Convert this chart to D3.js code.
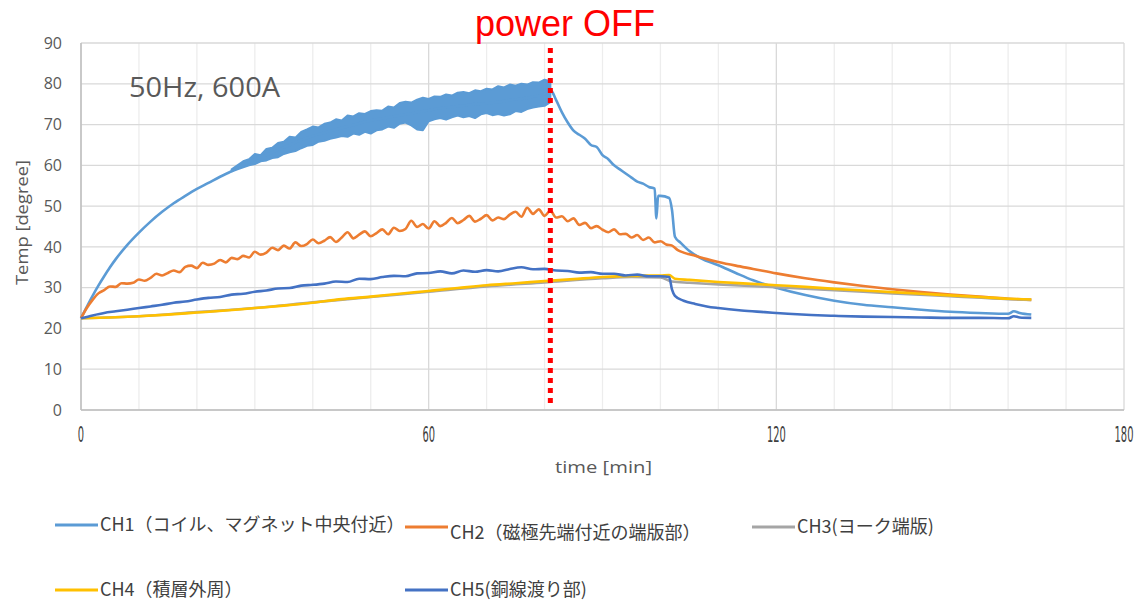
<!DOCTYPE html>
<html><head><meta charset="utf-8">
<script src="https://cdn.jsdelivr.net/npm/d3@7"></script>
<style>
body{margin:0;background:#fff;}
svg{display:block;}
</style></head>
<body>
<svg id="c" width="1138" height="600"></svg>
<script>
const xTicks = [0, 60, 120, 180];
const xMinor = [0,10,20,30,40,50,60,70,80,90,100,110,120,130,140,150,160,170,180];
const yTicks = [0,10,20,30,40,50,60,70,80,90];
const powerOffTime = 81;

const seriesNames = ["CH1（コイル、マグネット中央付近）","CH2（磁極先端付近の端版部）","CH3(ヨーク端版)","CH4（積層外周）","CH5(銅線渡り部)"];
const seriesColors = ["#5B9BD5","#ED7D31","#A5A5A5","#FFC000","#4472C4"];

const ch1 = [[0,22.5],[1,25.3],[2,28],[3,30.5],[4,32.8],[5,35],[6,37],[8,40.5],[10,43.5],[12,46.2],[14,48.6],[16,50.7],[18,52.5],[20,54.2],[22,55.7],[24,57.2],[26,58.6],[28,60.2],[30,61.5],[32,62.6],[34,63.8],[36,65],[38,66.2],[40,67.2],[42,68],[44,68.8],[46,69.5],[48,70.3],[50,71],[52,71.5],[54,72],[56,72.5],[58,73],[60,73.5],[62,74],[64,74.3],[66,74.6],[68,75],[70,75.2],[72,75.5],[74,76],[76,76.3],[78,76.8],[80,77.5],[81,78.5],[82,76],[83,73],[84,70.5],[85,68.5],[86,67.5],[87,66.5],[88,65],[89,64.5],[90,62.5],[91,61.5],[92,60],[93,59],[94,58],[95,57],[96,56],[97,55.5],[98,54.7],[99,54.3],[99.3,47],[99.6,52.5],[100,52.5],[101.5,52],[102,49],[102.5,42.5],[103.5,41],[105,39],[107,37.2],[110,35.5],[113,33.6],[116,31.8],[120,30],[125,28.2],[130,26.8],[135,25.8],[140,25.2],[145,24.6],[150,24.1],[155,23.8],[160,23.6],[161,24.2],[162,23.8],[164,23.4]];

const ch1Band = [[26,58.5,59],[27,59,60],[28,59.5,61],[29,60,61.5],[30,60.3,62.8],[31,61,62.5],[32,61.2,64],[33,61.8,64.3],[34,62,65.5],[35,62.8,65.8],[36,63.2,67],[37,63.5,66.8],[38,64.2,68.2],[39,64.8,68.8],[40,65,69.5],[41,65.8,69.3],[42,66,70.2],[43,66.5,70.5],[44,66.8,71.3],[45,67.2,71],[46,67,72.2],[47,67.8,72],[48,67.5,72.8],[49,68.2,72.6],[50,67.8,73.3],[51,68.6,73.5],[52,68.8,73.4],[53,69.5,74.4],[54,69.2,74.2],[55,70.2,75.3],[56,70.5,75.6],[57,69.8,75.4],[58,68.8,76.1],[59,68.6,76.6],[60,70.8,76.3],[61,71.3,76.9],[62,71.6,76.8],[63,71.2,77.4],[64,71.8,77.1],[65,72.2,77.8],[66,71.8,78],[67,72.1,77.7],[68,71.6,78.4],[69,72.5,78.2],[70,72.8,78.8],[71,72.3,78.6],[72,72.6,79.4],[73,72.2,79.1],[74,72.5,79.8],[75,73.3,79.5],[76,73.1,80],[77,73.8,79.8],[78,74.2,80.4],[79,74.4,80.3],[80,74.6,81],[81,75.5,80.6]];

const ch2 = [[0,22.5],[1,25],[2,27],[3,28.6],[4,29.4],[5,30.3],[6,30.2],[7,31.1],[8,31],[9,31.2],[10,32],[11,31.7],[12,32.4],[13,33.4],[14,33],[15,33.6],[16,34.2],[17,33.8],[18,35.1],[19,35.4],[20,34.8],[21,36.1],[22,35.6],[23,35.9],[24,36.8],[25,36.2],[26,37.3],[27,37],[28,37.8],[29,37.4],[30,38.8],[31,38.1],[32,38.6],[33,39.8],[34,39.2],[35,40.3],[36,39.6],[37,41.1],[38,40.2],[39,40.7],[40,41.8],[41,40.9],[42,41.5],[43,42.4],[44,41.2],[45,42.3],[46,43.6],[47,42.1],[48,43],[49,43.8],[50,42.6],[51,43.4],[52,44.3],[53,43.1],[54,44.7],[55,43.9],[56,44.4],[57,46.4],[58,44.9],[59,45.6],[60,44.5],[61,46.3],[62,45.1],[63,45.9],[64,47.1],[65,45.8],[66,46.6],[67,47.6],[68,46.2],[69,46.9],[70,47.8],[71,46.5],[72,47.2],[73,46.8],[74,47.9],[75,48.6],[76,47.4],[77,49.6],[78,48.1],[79,49.2],[80,47.6],[81,48.9],[82,47.2],[83,47.5],[84,46.3],[85,47],[86,45.4],[87,45.9],[88,44.6],[89,45.1],[90,44.2],[91,43.6],[92,44.3],[93,43.1],[94,43.2],[95,42.3],[96,42.9],[97,41.7],[98,42.3],[99,41.1],[100,41.4],[101,40.6],[102,40.3],[103,39.2],[104,38.6],[106,37.8],[108,37],[110,36.3],[113,35.4],[116,34.6],[120,33.5],[125,32.3],[130,31.3],[135,30.4],[140,29.6],[145,28.9],[150,28.3],[155,27.8],[160,27.3],[164,27]];

const ch3 = [[0,22.5],[10,23],[20,24],[30,25],[40,26.4],[50,27.7],[60,29],[70,30.3],[80,31.3],[90,32.3],[95,32.6],[100,32.5],[102,31.5],[105,31.2],[110,30.8],[120,30.1],[130,29.4],[140,28.6],[150,27.9],[160,27.2],[164,27]];

const ch4 = [[0,22.5],[5,22.7],[10,23],[15,23.4],[20,23.9],[25,24.4],[30,25],[35,25.6],[40,26.3],[45,27.2],[50,27.8],[55,28.5],[60,29.2],[65,29.9],[70,30.6],[75,31.1],[80,31.6],[85,32.1],[90,32.6],[95,32.9],[100,33],[101.5,33.1],[102.5,32.2],[105,31.9],[110,31.4],[115,31],[120,30.6],[125,30.2],[130,29.7],[135,29.3],[140,28.9],[145,28.5],[150,28.1],[155,27.7],[160,27.3],[164,27.1]];

const ch5 = [[0,22.5],[2,23.2],[4,23.8],[6,24.2],[8,24.6],[10,25],[12,25.4],[14,25.8],[16,26.3],[18,26.6],[20,27.1],[22,27.5],[24,27.7],[26,28.3],[28,28.5],[30,29],[32,29.3],[34,29.8],[36,29.9],[38,30.5],[40,30.7],[42,31],[44,31.5],[46,31.4],[48,32.2],[50,32.1],[52,32.6],[54,32.9],[56,32.8],[58,33.5],[60,33.6],[62,34],[64,33.5],[66,34.2],[68,33.9],[70,34.3],[72,34],[74,34.6],[76,35],[78,34.5],[80,34.6],[82,34.2],[84,34.1],[86,33.7],[88,33.8],[90,33.4],[92,33.4],[94,33],[96,33.2],[98,32.8],[100,32.8],[101.5,32.6],[102,29.5],[102.5,28],[104,26.8],[106,26],[108,25.4],[110,25],[114,24.4],[118,24],[122,23.6],[126,23.3],[130,23.1],[135,22.9],[140,22.8],[145,22.7],[150,22.6],[155,22.6],[160,22.5],[161,23],[162,22.7],[164,22.6]];

const allSeries = [ch1, ch2, ch3, ch4, ch5];

const svg = d3.select("#c");
const L = 81, R = 1124, T = 43, B = 410;
const x = d3.scaleLinear().domain([0,180]).range([L,R]);
const y = d3.scaleLinear().domain([0,90]).range([B,T]);

// grid
svg.append("g").selectAll("line").data(xMinor).join("line")
  .attr("x1", d=>x(d)).attr("x2", d=>x(d)).attr("y1", T).attr("y2", B)
  .attr("stroke", d => d % 60 === 0 ? "#d9d9d9" : "#ededed").attr("stroke-width", 1.3);
svg.append("g").selectAll("line").data(yTicks).join("line")
  .attr("x1", L).attr("x2", R).attr("y1", d=>y(d)).attr("y2", d=>y(d))
  .attr("stroke", "#d9d9d9").attr("stroke-width", 1.3);
svg.append("line").attr("x1",L).attr("x2",R).attr("y1",B).attr("y2",B).attr("stroke","#bfbfbf").attr("stroke-width",1.5);
svg.append("line").attr("x1",L).attr("x2",L).attr("y1",T).attr("y2",B).attr("stroke","#bfbfbf").attr("stroke-width",1.5);

// y axis
const yAx = svg.append("g").attr("transform", `translate(${L-19},0)`)
  .call(d3.axisLeft(y).tickValues(yTicks).tickSize(0).tickPadding(0));
yAx.select(".domain").remove();
yAx.selectAll("text").attr("font-family","Open Sans").attr("font-size",16).attr("fill","#595959");

// x axis
const xAx = svg.append("g").attr("transform", `translate(0,${B+16})`)
  .call(d3.axisBottom(x).tickValues(xTicks).tickSize(0).tickPadding(0));
xAx.select(".domain").remove();
xAx.selectAll("text").attr("font-family","DejaVu Sans Condensed, DejaVu Sans").attr("font-size",22).attr("fill","#404040")
  .attr("dy","0.71em");
xAx.selectAll(".tick").attr("transform", d => `translate(${x(d)},0) scale(0.5,1)`);

// axis titles
svg.append("text").attr("x", 555).attr("y", 473)
  .attr("font-family","Open Sans").attr("font-size",17).attr("fill","#595959")
  .attr("textLength",97).attr("lengthAdjust","spacingAndGlyphs").text("time [min]");
svg.append("text").attr("transform","translate(28,285) rotate(-90)")
  .attr("font-family","Open Sans").attr("font-size",17).attr("fill","#595959")
  .attr("textLength",125).attr("lengthAdjust","spacingAndGlyphs").text("Temp [degree]");

// series
const lineSmooth = d3.line().x(d=>x(d[0])).y(d=>y(d[1])).curve(d3.curveMonotoneX);
const area = d3.area().x(d=>x(d[0])).y0(d=>y(d[1])).y1(d=>y(d[2]));
const gS = svg.append("g");
allSeries.forEach((s,i)=>{
  if(i===0){
    gS.append("path").datum(ch1Band).attr("d", area).attr("fill", seriesColors[0]).attr("stroke", seriesColors[0]).attr("stroke-width",2).attr("stroke-linejoin","round");
  }
  gS.append("path").datum(s).attr("d", lineSmooth).attr("fill","none")
    .attr("stroke", seriesColors[i]).attr("stroke-width", 2.6).attr("stroke-linejoin","round");
});

// power off
svg.append("line").attr("x1", x(powerOffTime)).attr("x2", x(powerOffTime)).attr("y1", 48).attr("y2", 408)
  .attr("stroke","#FF0000").attr("stroke-width",5).attr("stroke-dasharray","5,5");
svg.append("text").attr("x", 475).attr("y", 36).attr("font-family","Liberation Sans, Arial").attr("font-size",36)
  .attr("fill","#FF0000").text("power OFF");

svg.append("text").attr("x", 129).attr("y", 97).attr("font-family","Open Sans").attr("font-size",27)
  .attr("fill","#595959").attr("textLength",151).attr("lengthAdjust","spacingAndGlyphs").text("50Hz, 600A");

// legend
const legendPos = [[55,525,531],[405,527,539],[752,527,533],[55,590,596],[405,590,596]];
const gL = svg.append("g");
seriesNames.forEach((n,i)=>{
  const p = legendPos[i];
  gL.append("line").attr("x1",p[0]).attr("x2",p[0]+43).attr("y1",p[1]).attr("y2",p[1])
    .attr("stroke",seriesColors[i]).attr("stroke-width",3);
  gL.append("text").attr("x",p[0]+45).attr("y",p[2]).attr("font-family","Noto Sans CJK JP").attr("font-size",18)
    .attr("fill","#404040").text(n);
});
</script>
</body></html>
